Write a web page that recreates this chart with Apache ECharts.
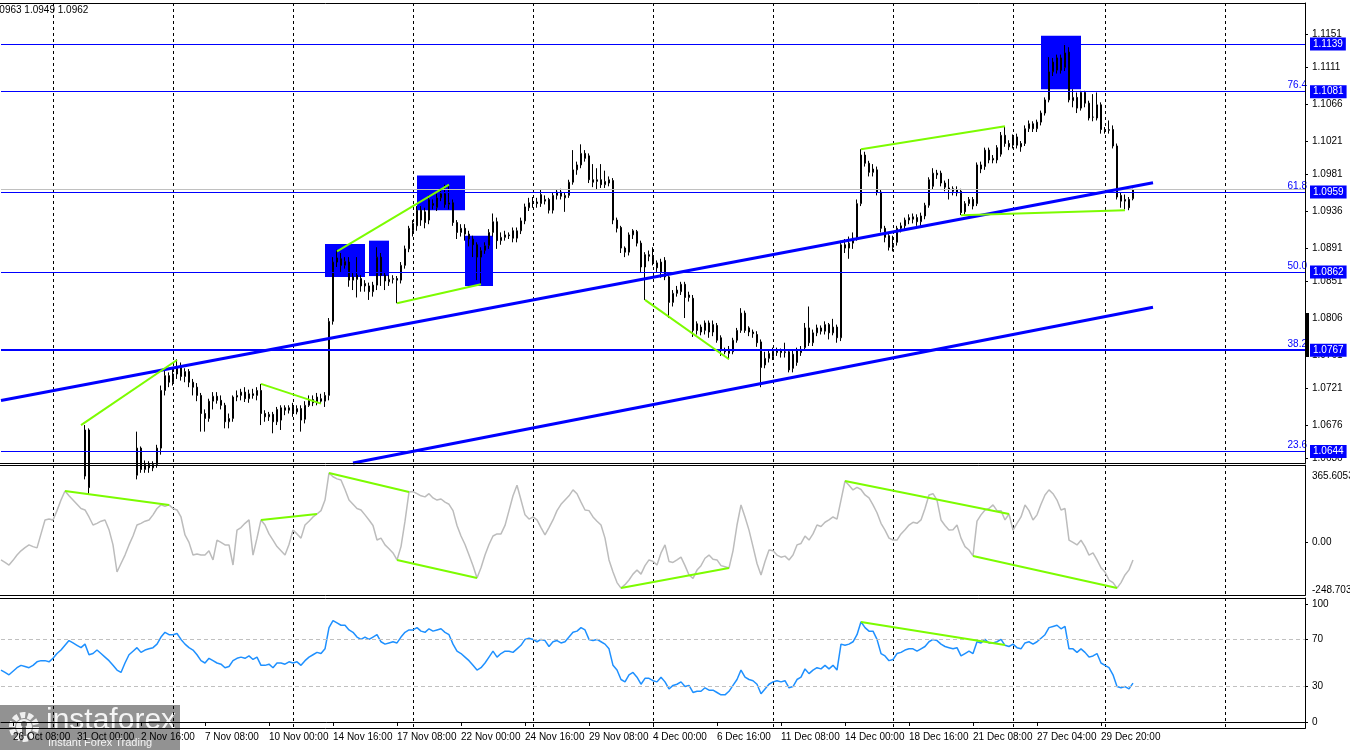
<!DOCTYPE html>
<html><head><meta charset="utf-8">
<script src="https://cdn.jsdelivr.net/npm/echarts@6/dist/echarts.min.js"></script>
<style>html,body{margin:0;padding:0;background:#fff;overflow:hidden;width:1350px;height:750px}#c{width:1400px;height:750px}</style>
</head><body><div id="c"></div>
<script>
// ---------- DATA ----------
// candles: [open, close, low, high], one per H4 bar from 25 Oct 2023 20:00
const candles = [
[1.0570,1.0565,1.0558,1.0575],[1.0565,1.0572,1.0560,1.0578],[1.0572,1.0560,1.0555,1.0575],[1.0560,1.0555,1.0548,1.0565],[1.0555,1.0540,1.0530,1.0560],
[1.0540,1.0528,1.0522,1.0545],[1.0528,1.0540,1.0524,1.0545],[1.0540,1.0548,1.0535,1.0555],[1.0548,1.0560,1.0542,1.0566],[1.0560,1.0568,1.0555,1.0575],
[1.0568,1.0572,1.0560,1.0580],[1.0572,1.0565,1.0560,1.0578],[1.0565,1.0562,1.0556,1.0570],[1.0565,1.0578,1.0560,1.0582],[1.0578,1.0590,1.0574,1.0596],
[1.0590,1.0602,1.0586,1.0608],[1.0602,1.0612,1.0598,1.0620],[1.0612,1.0608,1.0600,1.0622],[1.0608,1.0612,1.0602,1.0618],[1.0612,1.0606,1.0598,1.0616],
[1.0606,1.0614,1.0600,1.0620],[1.0614,1.0670,1.0610,1.0676],[1.0670,1.0600,1.0592,1.0672],[1.0600,1.0590,1.0582,1.0605],[1.0590,1.0578,1.0572,1.0595],
[1.0578,1.0570,1.0565,1.0584],[1.0570,1.0575,1.0562,1.0582],[1.0575,1.0565,1.0558,1.0580],[1.0565,1.0560,1.0550,1.0572],[1.0560,1.0548,1.0540,1.0566],
[1.0548,1.0540,1.0530,1.0555],[1.0540,1.0560,1.0535,1.0565],[1.0560,1.0590,1.0555,1.0596],[1.0590,1.0615,1.0585,1.0620],[1.0615,1.0648,1.0610,1.0668],
[1.0648,1.0622,1.0618,1.0650],[1.0622,1.0628,1.0618,1.0633],[1.0628,1.0624,1.0618,1.0632],[1.0624,1.0628,1.0620,1.0632],[1.0628,1.0648,1.0624,1.0652],
[1.0648,1.0718,1.0640,1.0724],[1.0718,1.0736,1.0712,1.0742],[1.0736,1.0728,1.0722,1.0740],[1.0728,1.0738,1.0724,1.0746],[1.0738,1.0746,1.0732,1.0756],
[1.0746,1.0735,1.0730,1.0752],[1.0735,1.0741,1.0728,1.0745],[1.0741,1.0728,1.0722,1.0744],[1.0728,1.0722,1.0712,1.0732],[1.0722,1.0712,1.0705,1.0727],
[1.0712,1.0690,1.0668,1.0715],[1.0690,1.0684,1.0668,1.0695],[1.0684,1.0705,1.0680,1.0708],[1.0705,1.0711,1.0695,1.0716],[1.0711,1.0706,1.0702,1.0716],
[1.0706,1.0700,1.0695,1.0712],[1.0700,1.0680,1.0672,1.0703],[1.0680,1.0684,1.0672,1.0690],[1.0684,1.0710,1.0680,1.0712],[1.0710,1.0712,1.0705,1.0718],
[1.0712,1.0716,1.0706,1.0720],[1.0716,1.0708,1.0704,1.0722],[1.0708,1.0714,1.0703,1.0719],[1.0714,1.0712,1.0708,1.0720],[1.0712,1.0718,1.0706,1.0722],
[1.0718,1.0690,1.0676,1.0726],[1.0690,1.0686,1.0680,1.0694],[1.0686,1.0689,1.0681,1.0692],[1.0689,1.0680,1.0666,1.0692],[1.0680,1.0695,1.0676,1.0698],
[1.0682,1.0697,1.0670,1.0700],[1.0697,1.0694,1.0688,1.0700],[1.0694,1.0697,1.0690,1.0700],[1.0698,1.0692,1.0686,1.0703],[1.0692,1.0696,1.0689,1.0700],
[1.0696,1.0682,1.0668,1.0700],[1.0683,1.0700,1.0678,1.0705],[1.0700,1.0707,1.0698,1.0712],[1.0707,1.0703,1.0699,1.0712],[1.0703,1.0710,1.0700,1.0715],
[1.0708,1.0705,1.0702,1.0714],[1.0705,1.0712,1.0698,1.0716],[1.0712,1.0802,1.0706,1.0806],[1.0802,1.0874,1.0798,1.0880],[1.0874,1.0879,1.0868,1.0889],
[1.0878,1.0870,1.0862,1.0885],[1.0870,1.0875,1.0866,1.0880],[1.0874,1.0852,1.0844,1.0880],[1.0852,1.0856,1.0840,1.0862],[1.0858,1.0853,1.0831,1.0880],
[1.0854,1.0845,1.0838,1.0858],[1.0845,1.0848,1.0838,1.0852],[1.0845,1.0838,1.0828,1.0849],[1.0838,1.0846,1.0832,1.0850],[1.0846,1.0880,1.0840,1.0892],
[1.0880,1.0858,1.0845,1.0885],[1.0858,1.0851,1.0840,1.0862],[1.0850,1.0853,1.0845,1.0858],[1.0853,1.0854,1.0848,1.0858],[1.0854,1.0852,1.0824,1.0857],
[1.0852,1.0870,1.0848,1.0874],[1.0870,1.0890,1.0866,1.0894],[1.0890,1.0915,1.0886,1.0918],[1.0912,1.0921,1.0905,1.0925],[1.0918,1.0937,1.0912,1.0942],
[1.0937,1.0925,1.0918,1.0942],[1.0935,1.0922,1.0915,1.0940],[1.0925,1.0950,1.0920,1.0955],[1.0945,1.0943,1.0938,1.0950],[1.0940,1.0952,1.0936,1.0957],
[1.0952,1.0957,1.0948,1.0962],[1.0957,1.0944,1.0940,1.0968],[1.0944,1.0946,1.0938,1.0966],[1.0946,1.0922,1.0918,1.0950],[1.0922,1.0910,1.0902,1.0925],
[1.0910,1.0915,1.0905,1.0920],[1.0915,1.0908,1.0900,1.0920],[1.0908,1.0902,1.0893,1.0912],[1.0902,1.0895,1.0880,1.0906],[1.0895,1.0880,1.0852,1.0898],
[1.0880,1.0888,1.0847,1.0892],[1.0888,1.0894,1.0884,1.0898],[1.0894,1.0910,1.0890,1.0914],[1.0910,1.0923,1.0905,1.0933],[1.0923,1.0900,1.0890,1.0928],
[1.0900,1.0904,1.0895,1.0910],[1.0904,1.0907,1.0900,1.0912],[1.0907,1.0906,1.0902,1.0910],[1.0912,1.0903,1.0898,1.0916],[1.0903,1.0912,1.0898,1.0916],
[1.0912,1.0924,1.0908,1.0928],[1.0924,1.0941,1.0920,1.0945],[1.0940,1.0946,1.0936,1.0952],[1.0946,1.0947,1.0940,1.0953],[1.0947,1.0945,1.0940,1.0952],
[1.0945,1.0956,1.0941,1.0962],[1.0948,1.0950,1.0944,1.0955],[1.0950,1.0937,1.0933,1.0952],[1.0937,1.0955,1.0933,1.0958],[1.0955,1.0959,1.0950,1.0962],
[1.0959,1.0954,1.0950,1.0963],[1.0952,1.0955,1.0935,1.0958],[1.0955,1.0971,1.0952,1.0974],[1.0971,1.0986,1.0968,1.1010],[1.0986,1.0992,1.0980,1.0996],
[1.0992,1.1006,1.0988,1.1017],[1.1006,1.1000,1.0996,1.1010],[1.1003,1.0974,1.0970,1.1006],[1.0974,1.0971,1.0965,1.0993],[1.0972,1.0974,1.0962,1.0988],
[1.0974,1.0968,1.0964,1.0993],[1.0968,1.0972,1.0964,1.0985],[1.0970,1.0974,1.0966,1.0978],[1.0973,1.0925,1.0920,1.0976],[1.0925,1.0915,1.0910,1.0928],
[1.0916,1.0891,1.0885,1.0918],[1.0891,1.0886,1.0880,1.0893],[1.0886,1.0907,1.0882,1.0910],[1.0907,1.0912,1.0902,1.0914],[1.0911,1.0897,1.0893,1.0913],
[1.0897,1.0868,1.0862,1.0900],[1.0868,1.0883,1.0828,1.0886],[1.0883,1.0881,1.0875,1.0888],[1.0882,1.0873,1.0870,1.0892],[1.0873,1.0867,1.0862,1.0876],
[1.0862,1.0874,1.0855,1.0878],[1.0876,1.0856,1.0852,1.0880],[1.0856,1.0825,1.0806,1.0858],[1.0825,1.0836,1.0820,1.0840],[1.0836,1.0840,1.0832,1.0845],
[1.0838,1.0847,1.0834,1.0850],[1.0847,1.0831,1.0806,1.0850],[1.0831,1.0834,1.0826,1.0838],[1.0830,1.0791,1.0783,1.0834],[1.0799,1.0791,1.0786,1.0802],
[1.0795,1.0789,1.0785,1.0798],[1.0791,1.0800,1.0786,1.0803],[1.0800,1.0789,1.0782,1.0803],[1.0798,1.0789,1.0784,1.0803],[1.0797,1.0779,1.0776,1.0800],
[1.0782,1.0767,1.0760,1.0785],[1.0767,1.0765,1.0762,1.0770],[1.0763,1.0768,1.0756,1.0772],[1.0765,1.0779,1.0762,1.0782],[1.0779,1.0791,1.0776,1.0794],
[1.0791,1.0812,1.0788,1.0818],[1.0812,1.0791,1.0788,1.0815],[1.0794,1.0789,1.0784,1.0796],[1.0789,1.0787,1.0782,1.0792],[1.0786,1.0776,1.0771,1.0790],
[1.0777,1.0746,1.0722,1.0780],[1.0749,1.0757,1.0745,1.0765],[1.0757,1.0763,1.0752,1.0768],[1.0759,1.0765,1.0755,1.0770],[1.0764,1.0766,1.0760,1.0770],
[1.0766,1.0764,1.0758,1.0769],[1.0764,1.0765,1.0758,1.0776],[1.0765,1.0743,1.0740,1.0768],[1.0762,1.0745,1.0740,1.0766],[1.0752,1.0766,1.0748,1.0770],
[1.0764,1.0768,1.0760,1.0772],[1.0770,1.0794,1.0766,1.0800],[1.0794,1.0776,1.0772,1.0820],[1.0776,1.0788,1.0772,1.0792],[1.0788,1.0794,1.0784,1.0798],
[1.0794,1.0790,1.0786,1.0797],[1.0790,1.0798,1.0786,1.0802],[1.0798,1.0788,1.0780,1.0800],[1.0788,1.0795,1.0785,1.0805],[1.0795,1.0782,1.0776,1.0798],
[1.0782,1.0895,1.0778,1.0900],[1.0895,1.0891,1.0885,1.0902],[1.0891,1.0897,1.0878,1.0905],[1.0897,1.0903,1.0890,1.0910],[1.0903,1.0945,1.0900,1.0950],
[1.0945,1.1004,1.0942,1.1011],[1.1004,1.0994,1.0990,1.1008],[1.0994,1.0983,1.0978,1.0997],[1.0983,1.0987,1.0978,1.0993],[1.0986,1.0959,1.0955,1.0990],
[1.0959,1.0915,1.0910,1.0962],[1.0915,1.0904,1.0898,1.0918],[1.0906,1.0892,1.0888,1.0908],[1.0892,1.0895,1.0887,1.0906],[1.0898,1.0915,1.0894,1.0918],
[1.0915,1.0918,1.0910,1.0922],[1.0918,1.0925,1.0914,1.0928],[1.0925,1.0928,1.0920,1.0932],[1.0926,1.0929,1.0921,1.0933],[1.0928,1.0923,1.0918,1.0932],
[1.0923,1.0930,1.0918,1.0934],[1.0930,1.0943,1.0926,1.0946],[1.0943,1.0974,1.0940,1.0977],[1.0966,1.0982,1.0962,1.0988],[1.0982,1.0980,1.0975,1.0986],
[1.0982,1.0970,1.0966,1.0985],[1.0970,1.0965,1.0960,1.0973],[1.0964,1.0962,1.0950,1.0975],[1.0963,1.0960,1.0955,1.0966],[1.0958,1.0962,1.0954,1.0966],
[1.0960,1.0934,1.0931,1.0963],[1.0935,1.0945,1.0932,1.0948],[1.0945,1.0950,1.0942,1.0953],[1.0950,1.0942,1.0938,1.0953],[1.0945,1.0992,1.0942,1.0995],
[1.0992,1.0987,1.0982,1.0996],[1.0990,1.1010,1.0986,1.1013],[1.1010,1.0998,1.0994,1.1013],[1.0998,1.1000,1.0994,1.1004],[1.0998,1.1013,1.0994,1.1016],
[1.1005,1.1028,1.1002,1.1032],[1.1028,1.1018,1.1014,1.1039],[1.1018,1.1014,1.1010,1.1022],[1.1016,1.1026,1.1012,1.1029],[1.1026,1.1016,1.1012,1.1030],
[1.1018,1.1014,1.1008,1.1021],[1.1018,1.1036,1.1015,1.1040],[1.1036,1.1042,1.1032,1.1046],[1.1042,1.1036,1.1032,1.1045],[1.1036,1.1044,1.1032,1.1047],
[1.1044,1.1055,1.1040,1.1058],[1.1055,1.1071,1.1052,1.1074],[1.1071,1.1105,1.1068,1.1123],[1.1105,1.1117,1.1100,1.1122],[1.1107,1.1122,1.1103,1.1126],
[1.1122,1.1107,1.1103,1.1126],[1.1110,1.1128,1.1106,1.1139],[1.1129,1.1071,1.1068,1.1135],[1.1070,1.1074,1.1062,1.1084],[1.1074,1.1061,1.1055,1.1080],
[1.1061,1.1080,1.1058,1.1082],[1.1080,1.1067,1.1062,1.1082],[1.1067,1.1049,1.1046,1.1070],[1.1050,1.1050,1.1045,1.1078],[1.1049,1.1065,1.1046,1.1080],
[1.1065,1.1035,1.1030,1.1068],[1.1035,1.1034,1.1030,1.1038],[1.1034,1.1035,1.1030,1.1046],[1.1035,1.1015,1.1012,1.1040],[1.1015,1.0953,1.0950,1.1018],
[1.0955,1.0948,1.0940,1.0958],[1.0948,1.0950,1.0938,1.0956],[1.0950,1.0940,1.0937,1.0953],[1.0951,1.0962,1.0949,1.0963]
];
const cci = [
-83,-95,-107,-85,-60,-40,-25,-12,-20,-26,
40,106,110,106,150,200,243,220,200,180,
160,153,120,82,90,100,106,60,-12,-140,
-100,-60,-12,30,82,90,100,106,130,160,
177,170,177,160,153,120,35,0,-60,-55,
-60,-60,-40,-83,11,0,-12,-12,-107,58,
70,90,106,-60,20,106,82,40,11,-20,
-40,-60,-10,58,40,20,82,100,120,134,
150,200,328,310,300,295,250,200,180,160,
153,130,106,80,11,20,-12,-30,-50,-83,
-20,100,238,240,230,220,215,230,210,200,
205,190,180,150,80,30,-10,-60,-110,-168,
-120,-60,-10,30,40,40,80,150,220,270,
200,130,110,120,106,70,35,70,106,150,
180,200,220,248,230,190,153,150,120,100,
82,20,-83,-140,-190,-216,-200,-178,-150,-131,
-150,-110,-83,-90,-107,-50,-12,-90,-95,-83,
-70,-110,-154,-170,-131,-110,-75,-60,-80,-83,
-110,-115,-121,-40,82,177,120,58,-20,-100,
-154,-90,-36,-40,-60,-70,-65,-83,-60,-12,
-5,30,11,40,82,75,95,106,120,110,
200,290,270,248,260,250,224,210,177,140,
90,58,20,11,11,40,60,82,95,90,
106,160,224,230,200,106,80,58,60,82,
20,-20,-36,-64,100,130,153,160,177,150,
150,106,134,58,90,120,177,150,106,130,
180,224,248,230,200,153,160,11,0,-12,
10,-20,-60,-50,-83,-120,-140,-178,-190,-216,
-190,-154,-130,-83
];
const rsi = [
44,42,40,43,46,48,47,46,48,51,
52,52,51,54,58,61,65,69,67,65,
63,66,57,58,61,58,55,52,48,44,
42,50,57,60,63,59,61,62,63,66,
72,76,74,74,75,70,66,63,61,57,
52,50,54,52,50,49,46,47,52,54,
55,54,56,53,55,48,48,49,46,50,
50,49,51,50,51,48,52,55,57,59,
58,62,80,86,84,82,82,78,76,72,
70,72,70,72,74,68,66,67,68,67,
72,76,78,78,80,77,76,79,77,78,
79,76,74,66,60,58,55,52,48,44,
46,50,55,60,55,58,60,60,59,62,
65,70,71,70,68,70,69,64,68,69,
67,68,72,76,77,80,78,70,69,70,
68,66,62,48,44,36,34,40,42,38,
32,37,37,35,34,38,34,28,31,32,
34,30,31,25,26,26,29,27,27,25,
23,23,26,31,36,44,38,36,35,32,
24,28,32,34,35,34,35,29,30,36,
38,45,41,44,46,45,48,45,48,44,
66,65,66,68,74,85,80,77,77,70,
58,56,52,53,58,59,61,62,62,60,
62,64,68,70,69,66,64,63,62,63,
56,58,60,58,68,67,70,67,67,68,
70,65,64,66,63,62,67,68,66,68,
71,74,80,81,82,79,81,62,62,59,
62,59,55,56,58,50,48,46,40,30,
29,30,28,33
];
const priceTicks = [1.0636,1.0676,1.0721,1.0761,1.0806,1.0851,1.0891,1.0936,1.0981,1.1021,1.1066,1.1111,1.1151];
const cciTicks = [-248.7035, 0, 365.6053];
const rsiTicks = [0, 30, 70, 100];
const rsiLevels = [30, 70];
const levels = [1.1139, 1.1081, 1.0959, 1.0862, 1.0767, 1.0644];
const fibTexts = ['', '76.4', '61.8', '50.0', '38.2', '23.6'];
const bidPrice = 1.0962;
const header = '1.0963 1.0949 1.0962';
const channels = [[[0, 1.07058], [288, 1.09704]], [[88, 1.0630], [288, 1.0819]]];
const priceDiv = [
  [[20, 1.0676], [44, 1.0755]], [[65, 1.0726], [80, 1.0702]], [[84, 1.0887], [112, 1.0968]],
  [[99, 1.0824], [120, 1.0847]], [[161, 1.0828], [182, 1.0756]], [[215, 1.1011], [251, 1.1039]],
  [[240, 1.0931], [281, 1.0937]]
];
const cciDiv = [
  [[16, 243], [42, 177]], [[65, 106], [79, 134]], [[82, 328], [102, 238]], [[99, -83], [119, -168]],
  [[155, -216], [182, -121]], [[211, 290], [252, 134]], [[243, -64], [279, -216]]
];
const rsiDiv = [[[215, 84.7], [251, 65.3]]];
// boxes: [fromIndex, toIndex, topPrice, bottomPrice]
const boxes = [[81, 91, 1.0896, 1.0856], [92, 97, 1.0900, 1.0857], [104, 116, 1.0979, 1.0937], [116, 123, 1.0906, 1.0845], [260, 270, 1.1149, 1.1084]];
const weekStarts = [13, 43, 73, 103, 133, 163, 193, 223, 253, 276, 306];
const holidays = ['2023-12-25', '2024-01-01'];
const missingBars = ['2023-12-26 0'];
const BAR_COUNT = 327;

// ---------- BUILD ----------
function buildTimes(n) {
  const M = ['Jan','Feb','Mar','Apr','May','Jun','Jul','Aug','Sep','Oct','Nov','Dec'];
  const out = []; let t = Date.UTC(2023, 9, 25, 20);
  while (out.length < n) {
    const d = new Date(t); t += 4 * 3600000;
    const wd = d.getUTCDay(), h = d.getUTCHours(), key = d.toISOString().slice(0, 10);
    if (wd === 0 || wd === 6) continue;
    if (holidays.includes(key)) continue;
    if (missingBars.includes(key + ' ' + h)) continue;
    out.push(d.getUTCDate() + ' ' + M[d.getUTCMonth()] + ' ' + String(h).padStart(2, '0') + ':00');
  }
  return out;
}
const cats = buildTimes(BAR_COUNT);
const lastBar = candles.length - 1;
const isLabel = i => i >= 3 && i <= lastBar && (i - 3) % 16 === 0;
const FONT = 'Liberation Sans';
const BLUE = '#0000ff', GREEN = '#7cfc00';
const grids = [{top: 3, h: 460}, {top: 465, h: 130}, {top: 598, h: 130}];

const chart = echarts.init(document.getElementById('c'), null, {renderer: 'canvas'});
const xAxes = grids.map((g, k) => ({
  type: 'category', gridIndex: k, data: cats, boundaryGap: false,
  axisLine: {show: k === 2, lineStyle: {color: '#000'}},
  axisTick: {show: k === 2, interval: (i) => isLabel(i), length: 4, lineStyle: {color: '#000'}},
  axisLabel: {show: k === 2, interval: (i) => isLabel(i), align: 'left', margin: 4, color: '#000', fontSize: 10, fontFamily: FONT},
  splitLine: {show: true, interval: (i) => weekStarts.includes(i), lineStyle: {color: '#000', type: [3, 3], width: 1}}
}));
const yBase = {position: 'right', axisLine: {show: true, lineStyle: {color: '#000'}}, splitLine: {show: false}};
const yAxes = [
  Object.assign({}, yBase, {type: 'value', gridIndex: 0, min: 1.06299, max: 1.11887,
    axisTick: {show: true, length: 3, customValues: priceTicks, lineStyle: {color: '#000'}},
    axisLabel: {customValues: priceTicks, formatter: v => v.toFixed(4), color: '#000', fontSize: 10, fontFamily: FONT, margin: 7}}),
  Object.assign({}, yBase, {type: 'value', gridIndex: 1, min: cciTicks[0], max: cciTicks[2],
    axisTick: {show: true, length: 3, customValues: [0], lineStyle: {color: '#000'}},
    axisLabel: {customValues: cciTicks,
      formatter: v => v === 0 ? '0.00' : (v > 0 ? '{top|' + v.toFixed(4) + '}' : v.toFixed(4)),
      rich: {top: {padding: [6, 0, 0, 0], fontSize: 10, fontFamily: FONT, color: '#000'}},
      color: '#000', fontSize: 10, fontFamily: FONT, margin: 7,
      verticalAlignMaxLabel: 'top', verticalAlignMinLabel: 'bottom'}}),
  Object.assign({}, yBase, {type: 'value', gridIndex: 2, min: -5.1, max: 105.1,
    axisTick: {show: true, length: 3, customValues: rsiTicks, lineStyle: {color: '#000'}},
    axisLabel: {customValues: rsiTicks, formatter: v => String(v), color: '#000', fontSize: 10, fontFamily: FONT, margin: 7}})
];

const seg = (pair, w, color) => [{coord: pair[0], lineStyle: {color: color, width: w, type: 'solid'}}, {coord: pair[1]}];
const priceLines = [];
levels.forEach((v, k) => {
  priceLines.push({yAxis: v, lineStyle: {color: BLUE, width: v === 1.0767 ? 2 : 1, type: 'solid'},
    label: {show: true, position: 'end', formatter: v.toFixed(4), color: '#fff', backgroundColor: BLUE, padding: [2, 3, 1, 3], fontSize: 10, fontFamily: FONT, distance: 5}});
  if (fibTexts[k]) priceLines.push({yAxis: v, lineStyle: {color: 'rgba(0,0,0,0)', width: 1},
    label: {show: true, position: 'insideEndTop', formatter: fibTexts[k], color: BLUE, fontSize: 10, fontFamily: FONT, distance: [-2, 1]}});
});
priceLines.push({yAxis: bidPrice, lineStyle: {color: '#c0c0c0', width: 1, type: 'solid'}, label: {show: false}});
channels.forEach(p => priceLines.push(seg(p, 3, BLUE)));
priceDiv.forEach(p => priceLines.push(seg(p, 2, GREEN)));

const rsiLines = rsiLevels.map(v => ({yAxis: v, lineStyle: {color: '#c0c0c0', type: [4, 3], width: 1}, label: {show: false}}));
rsiDiv.forEach(p => rsiLines.push(seg(p, 2, GREEN)));

const option = {
  animation: false,
  backgroundColor: '#fff',
  grid: grids.map(g => ({left: 1, width: 1304, top: g.top, height: g.h, show: false})),
  xAxis: xAxes, yAxis: yAxes,
  series: [
    {type: 'line', xAxisIndex: 0, yAxisIndex: 0, data: [], z: 1, silent: true,
      markArea: {silent: true, itemStyle: {color: BLUE, opacity: 1}, label: {show: false},
        data: boxes.map(b => [{xAxis: b[0], yAxis: b[2]}, {xAxis: b[1], yAxis: b[3]}])}},
    {type: 'candlestick', xAxisIndex: 0, yAxisIndex: 0, data: candles, barWidth: 2, z: 3, clip: true, silent: true,
      itemStyle: {color: '#fff', color0: '#000', borderColor: '#000', borderColor0: '#000', borderColorDoji: '#000', borderWidth: 1}},
    {type: 'line', xAxisIndex: 0, yAxisIndex: 0, data: [], z: 5, silent: true,
      markLine: {silent: true, precision: 6, symbol: ['none', 'none'], animation: false, data: priceLines}},
    {type: 'line', xAxisIndex: 1, yAxisIndex: 1, data: cci, showSymbol: false, symbol: 'none', silent: true, z: 3,
      lineStyle: {color: '#bcbcbc', width: 1.5},
      markLine: {silent: true, precision: 6, symbol: ['none', 'none'], animation: false, data: cciDiv.map(p => seg(p, 2, GREEN))}},
    {type: 'line', xAxisIndex: 2, yAxisIndex: 2, data: rsi, showSymbol: false, symbol: 'none', silent: true, z: 3,
      lineStyle: {color: '#1e90ff', width: 1.5},
      markLine: {silent: true, precision: 6, symbol: ['none', 'none'], animation: false, data: rsiLines}}
  ],
  graphic: [
    ...grids.map(g => ({type: 'rect', silent: true, z: 10, shape: {x: -5, y: g.top + 0.5, width: 1310.5, height: g.h}, style: {fill: null, stroke: '#000', lineWidth: 1}})),
    {type: 'rect', silent: true, z: 10, shape: {x: 1306, y: 313, width: 3, height: 44}, style: {fill: '#000'}},
    {type: 'text', silent: true, z: 10, left: -9, top: 5, style: {text: header, fill: '#000', font: '10px "Liberation Sans"'}},
    {type: 'group', silent: true, z: 20, left: 0, top: 705, children: [
      {type: 'rect', shape: {x: 0, y: 0, width: 180, height: 45}, style: {fill: 'rgba(115,115,115,0.78)'}},
      {type: 'circle', shape: {cx: 24, cy: 22, r: 12}, style: {fill: null, stroke: 'rgba(255,255,255,0.85)', lineWidth: 6, lineDash: [5, 2.5]}},
      {type: 'circle', shape: {cx: 24, cy: 22, r: 8}, style: {fill: 'rgba(255,255,255,0.85)'}},
      {type: 'circle', shape: {cx: 24, cy: 19, r: 3}, style: {fill: 'rgba(115,115,115,1)'}},
      {type: 'rect', shape: {x: 22, y: 22, width: 4, height: 9}, style: {fill: 'rgba(115,115,115,1)'}},
      {type: 'text', style: {x: 46, y: 1, text: 'instaforex', fill: 'rgba(255,255,255,0.9)', font: '30px "Liberation Sans"'}},
      {type: 'text', style: {x: 48, y: 32, text: 'Instant Forex Trading', fill: 'rgba(255,255,255,0.9)', font: '11px "Liberation Sans"'}}
    ]}
  ]
};
chart.setOption(option);
</script>
</body></html>
